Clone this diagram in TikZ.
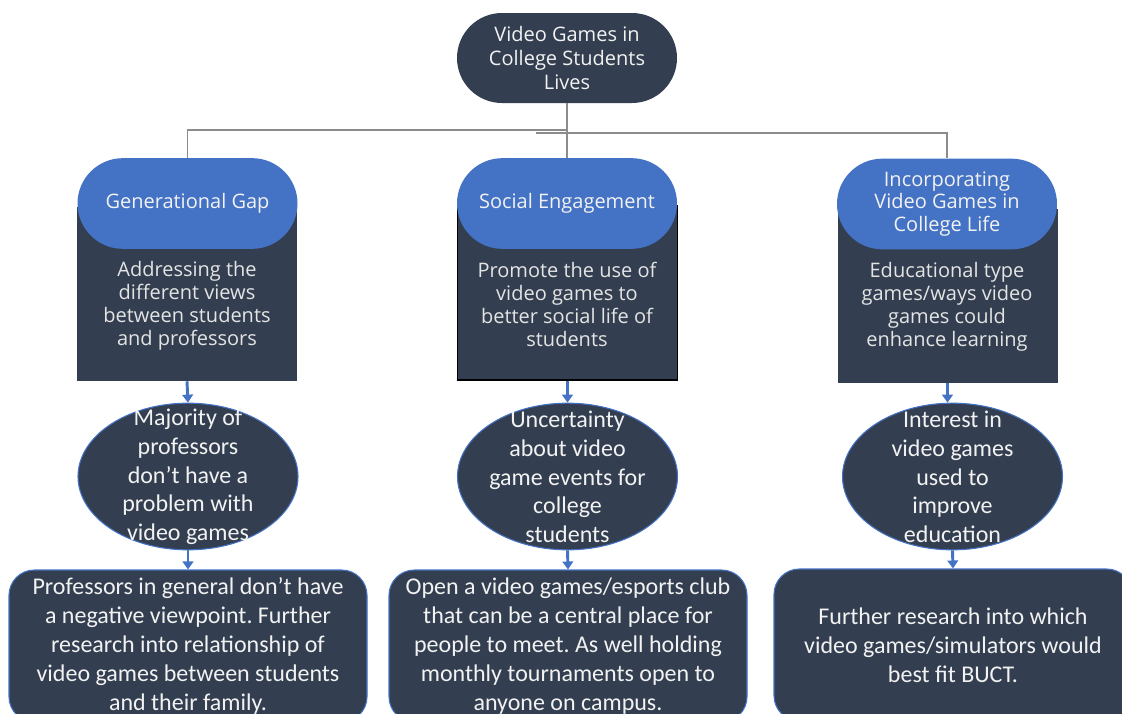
\documentclass[tikz,border=0pt]{standalone}
\usepackage{fontspec}
\setmainfont{Carlito}
\newfontfamily\osans{Open Sans}
\usetikzlibrary{shapes.misc,shapes.geometric,arrows.meta}
\definecolor{dark}{HTML}{333F50}
\definecolor{accent}{HTML}{4472C4}
\definecolor{txtw}{HTML}{F2F2F2}
\definecolor{txtg}{HTML}{E4E4E4}
\definecolor{connc}{HTML}{8C8C8C}
\frenchspacing
\begin{document}
\begin{tikzpicture}[x=0.75pt,y=-0.75pt,
  topnode/.style={rounded rectangle, fill=dark, minimum width=165pt, minimum height=67.5pt, inner sep=0pt, align=center, text=txtw, font=\osans\fontsize{15}{18}\selectfont},
  stadium/.style={rounded rectangle, fill=accent, minimum width=165pt, minimum height=68pt, inner sep=0pt, align=center, text=txtw, font=\osans\fontsize{15}{17}\selectfont},
  panel/.style={rectangle, fill=dark, minimum width=165pt, minimum height=130.5pt, inner sep=0pt},
  paneltext/.style={align=center, text=txtg, inner sep=0pt, font=\osans\fontsize{15}{17.25}\selectfont},
  oval/.style={ellipse, fill=dark, draw=accent, line width=0.8pt, minimum width=165pt, minimum height=110pt, inner sep=0pt},
  ovaltext/.style={align=center, text=txtw, inner sep=0pt, font=\fontsize{18}{21.6}\selectfont},
  endbox/.style={rectangle, rounded corners=19pt, fill=dark, draw=accent, line width=0.8pt, minimum width=268.5pt, minimum height=114pt, inner sep=0pt, align=center, text=txtw, font=\fontsize{18}{21.6}\selectfont},
  conn/.style={draw=connc, line width=1.1pt},
  flow/.style={draw=accent, line width=2.2pt, -{Triangle[width=8pt,length=6pt]}}
]
\useasboundingbox (0,0) rectangle (1122,714);
\clip (0,0) rectangle (1122,714);
\fill[white] (0,0) rectangle (1122,714);

% top
\node[topnode] (top) at (567,58) {Video Games in\\College Students\\Lives};

% panels
\node[panel] (r1) at (187,294) {};
\node[panel, draw=black, line width=0.8pt] (r2) at (567.5,293) {};
\node[panel] (r3) at (947.5,295.5) {};
\node[paneltext] (t1) at (187,306) {Addressing the\\different views\\between students\\and professors};
\node[paneltext] (t2) at (567,304) {Promote the use of\\video games to\\better social life of\\students};
\node[paneltext] (t3) at (947,307) {Educational type\\games/ways video\\games could\\enhance learning};

% stadiums
\node[stadium] (g1) at (187.5,203.5) {Generational Gap};
\node[stadium] (g2) at (567,203.5) {Social Engagement};
\node[stadium] (g3) at (947,204) {Incorporating\\Video Games in\\College Life};

% connectors from top
\coordinate (hl) at (567,130);
\coordinate (hr) at (536,133);
\draw[conn] (top.south) -- (g2.north);
\draw[conn] (hl) -| (g1.north);
\draw[conn] (hr) -| (g3.north);

% ovals
\node[oval] (e1) at (188,476.5) {};
\node[oval] (e2) at (567.5,476.5) {};
\node[oval] (e3) at (952.5,476.5) {};
\node[ovaltext] (o1) at (188,477) {Majority of\\professors\\don’t have a\\problem with\\video games};
\node[ovaltext] (o2) at (567.5,477) {Uncertainty\\about video\\game events for\\college\\students};
\node[ovaltext] (o3) at (952.5,477) {Interest in\\video games\\used to\\improve\\education};

% end boxes
\node[endbox] (b1) at (188,646) {Professors in general don’t have\\a negative viewpoint. Further\\research into relationship of\\video games between students\\and their family.};
\node[endbox] (b2) at (568,646) {Open a video games/esports club\\that can be a central place for\\people to meet. As well holding\\monthly tournaments open to\\anyone on campus.};
\node[endbox] (b3) at (953,645) {Further research into which\\video games/simulators would\\best fit BUCT.};

% flow arrows
\draw[flow] (r1.south) -- (e1.north);
\draw[flow] (r2.south) -- (e2.north);
\draw[flow] (r3.south) -- (e3.north -| r3.south);
\draw[flow] (e1.south) -- (b1.north);
\draw[flow] (e2.south) -- (b2.north);
\draw[flow] (e3.south) -- (b3.north);
\end{tikzpicture}
\end{document}
